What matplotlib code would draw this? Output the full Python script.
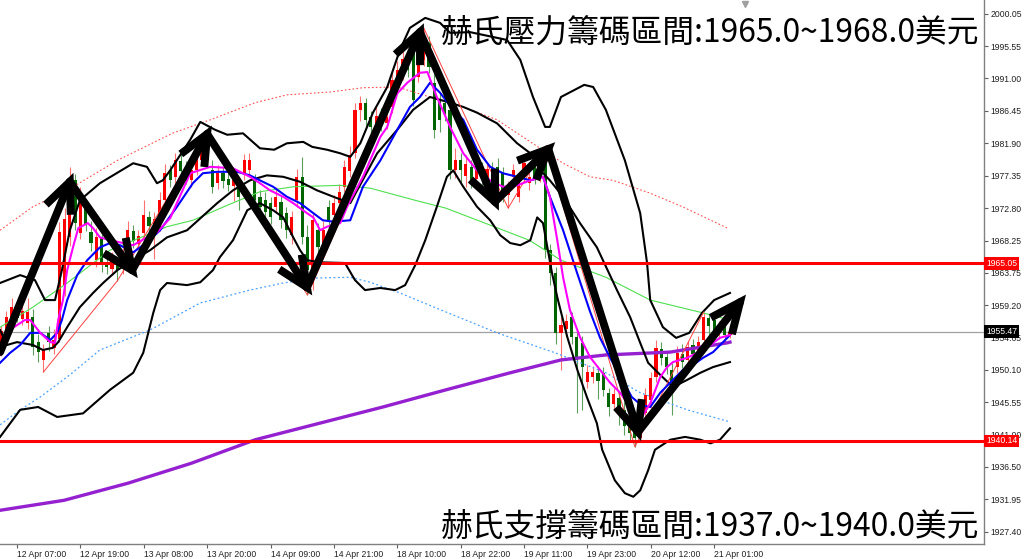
import matplotlib
matplotlib.use("Agg")
import numpy as np
import matplotlib.pyplot as plt
import matplotlib.transforms as mtransforms
from matplotlib.patches import Rectangle

# ---------------- chart data (gold H1) ----------------
opens = [1953.3, 1955.0, 1957.5, 1958.8, 1957.2, 1956.7, 1957.5, 1954.0, 1951.5, 1955.3,
         1953.2, 1954.5, 1962.0, 1968.7, 1976.7, 1969.3, 1972.8, 1969.4, 1965.5, 1968.6,
         1965.3, 1964.3, 1965.1, 1964.5, 1967.5, 1969.6, 1967.8, 1969.3, 1971.6, 1970.0,
         1970.1, 1973.9, 1978.1, 1977.2, 1979.4, 1978.2, 1976.7, 1978.1, 1979.6, 1980.9,
         1978.1, 1976.3, 1977.8, 1976.9, 1975.9, 1976.3, 1977.6, 1978.1, 1976.7, 1974.4,
         1974.0, 1973.5, 1973.0, 1973.6, 1972.1, 1969.0, 1973.9, 1977.2, 1968.7, 1962.3,
         1969.7, 1967.5, 1972.9, 1971.9, 1973.5, 1975.8, 1978.0, 1980.5, 1986.6, 1987.5,
         1985.6, 1984.2, 1985.9, 1984.7, 1987.0, 1989.8, 1991.6, 1993.6, 1994.6, 1991.2,
         1993.6, 1996.0, 1990.4, 1988.0, 1987.5, 1986.6, 1978.1, 1979.6, 1977.3, 1978.6,
         1976.9, 1978.6, 1977.0, 1978.4, 1978.6, 1977.7, 1974.6, 1977.2, 1974.4, 1977.2,
         1976.3, 1978.6, 1977.2, 1979.1, 1966.9, 1963.7, 1955.3, 1955.9, 1957.5, 1954.7,
         1953.9, 1948.4, 1949.1, 1949.6, 1949.6, 1946.8, 1945.3, 1946.2, 1944.5, 1942.5,
         1941.8, 1940.6, 1944.0, 1945.9, 1949.1, 1953.0, 1951.9, 1950.1, 1950.5, 1952.4,
         1951.5, 1953.6, 1952.2, 1954.3, 1957.4, 1957.1, 1955.5, 1956.3, 1955.0]
highs = [1956.2, 1958.3, 1960.2, 1959.7, 1959.5, 1960.2, 1958.7, 1955.2, 1953.8, 1956.3,
         1955.8, 1970.8, 1972.8, 1978.6, 1977.6, 1975.8, 1974.0, 1971.0, 1970.0, 1969.2,
         1966.6, 1966.6, 1966.0, 1967.2, 1971.0, 1970.4, 1969.8, 1974.0, 1972.4, 1972.2,
         1975.0, 1979.0, 1978.9, 1980.6, 1980.5, 1979.4, 1979.6, 1981.0, 1982.0, 1983.3,
         1979.5, 1978.8, 1978.6, 1977.8, 1977.6, 1977.1, 1980.4, 1980.5, 1977.6, 1975.4,
         1975.1, 1974.4, 1975.8, 1974.5, 1973.0, 1972.4, 1978.3, 1980.0, 1970.5, 1972.2,
         1970.7, 1971.0, 1974.0, 1974.6, 1976.2, 1979.5, 1981.5, 1987.6, 1988.6, 1988.3,
         1986.4, 1987.0, 1986.8, 1986.8, 1991.8, 1993.4, 1995.0, 1994.6, 1995.8, 1995.5,
         1998.1, 1997.0, 1991.6, 1989.0, 1988.6, 1987.8, 1981.2, 1980.6, 1980.3, 1979.5,
         1979.6, 1979.3, 1979.2, 1979.3, 1979.8, 1978.6, 1976.6, 1979.0, 1977.6, 1980.2,
         1978.4, 1979.4, 1980.5, 1981.5, 1967.8, 1964.6, 1957.5, 1958.0, 1958.2, 1955.6,
         1954.8, 1950.8, 1950.6, 1950.7, 1950.5, 1947.6, 1947.6, 1947.0, 1945.6, 1943.6,
         1942.8, 1944.5, 1947.5, 1949.8, 1954.3, 1954.0, 1952.8, 1951.0, 1953.5, 1953.7,
         1954.1, 1954.4, 1954.9, 1958.2, 1958.0, 1957.8, 1957.0, 1957.0, 1956.6]
lows = [1952.0, 1954.6, 1956.9, 1956.8, 1956.4, 1955.8, 1952.2, 1951.2, 1949.8, 1952.8,
        1952.3, 1954.0, 1960.5, 1967.5, 1969.8, 1968.5, 1969.6, 1966.8, 1964.5, 1963.9,
        1963.5, 1963.4, 1962.6, 1963.6, 1966.8, 1967.2, 1967.0, 1968.6, 1969.4, 1965.6,
        1969.6, 1973.2, 1975.8, 1976.3, 1977.1, 1976.2, 1975.8, 1977.4, 1978.8, 1978.9,
        1974.9, 1975.5, 1975.6, 1975.2, 1973.8, 1972.6, 1976.8, 1977.3, 1973.0, 1972.0,
        1971.2, 1970.6, 1972.2, 1970.0, 1968.6, 1967.8, 1973.0, 1967.8, 1960.6, 1961.3,
        1966.0, 1966.5, 1970.0, 1971.0, 1972.6, 1975.0, 1977.2, 1979.8, 1985.0, 1984.1,
        1983.2, 1983.0, 1983.6, 1983.9, 1986.2, 1989.0, 1990.8, 1991.2, 1987.2, 1990.5,
        1992.8, 1991.8, 1982.6, 1983.5, 1985.0, 1976.9, 1977.0, 1976.5, 1975.8, 1975.6,
        1976.0, 1975.7, 1975.8, 1975.7, 1974.6, 1973.6, 1972.8, 1976.2, 1973.6, 1976.5,
        1975.4, 1976.2, 1976.4, 1965.8, 1962.0, 1953.8, 1950.1, 1954.8, 1953.8, 1944.0,
        1944.5, 1947.5, 1948.2, 1946.0, 1946.4, 1943.6, 1944.6, 1942.3, 1941.0, 1940.2,
        1939.3, 1940.0, 1943.0, 1944.8, 1948.4, 1950.8, 1949.5, 1943.8, 1949.7, 1950.4,
        1950.6, 1951.2, 1951.4, 1953.7, 1955.0, 1954.6, 1954.5, 1954.0, 1954.6]
closes = [1955.6, 1957.5, 1958.9, 1957.4, 1958.3, 1958.2, 1953.3, 1952.6, 1952.9, 1954.0,
          1954.3, 1969.5, 1971.3, 1974.9, 1970.7, 1973.5, 1970.5, 1967.9, 1968.7, 1965.3,
          1964.6, 1965.6, 1964.1, 1966.0, 1969.7, 1968.2, 1968.9, 1971.8, 1970.3, 1971.3,
          1973.9, 1977.7, 1976.7, 1979.5, 1978.0, 1977.3, 1978.1, 1979.8, 1981.0, 1979.6,
          1975.8, 1977.7, 1976.6, 1976.0, 1976.8, 1974.4, 1979.5, 1979.6, 1973.9, 1973.0,
          1972.3, 1971.5, 1974.4, 1971.1, 1969.7, 1971.5, 1977.2, 1968.7, 1964.1, 1971.1,
          1967.3, 1969.8, 1971.1, 1973.5, 1975.0, 1978.6, 1980.2, 1986.6, 1987.5, 1985.2,
          1984.2, 1985.8, 1984.5, 1985.6, 1990.8, 1992.2, 1993.8, 1992.2, 1988.0, 1993.6,
          1996.2, 1992.6, 1983.8, 1985.2, 1986.0, 1978.1, 1979.5, 1978.1, 1979.0, 1976.8,
          1978.5, 1977.2, 1978.3, 1976.7, 1975.8, 1975.3, 1975.6, 1978.1, 1976.7, 1979.1,
          1977.2, 1977.2, 1979.6, 1966.9, 1963.7, 1955.3, 1956.4, 1957.0, 1954.7, 1951.5,
          1950.5, 1949.8, 1949.8, 1948.5, 1947.3, 1944.9, 1946.7, 1944.0, 1942.2, 1941.3,
          1940.5, 1942.9, 1946.6, 1948.9, 1953.2, 1951.8, 1950.5, 1948.3, 1952.5, 1951.2,
          1953.3, 1952.4, 1954.0, 1957.5, 1956.2, 1955.7, 1956.3, 1955.0, 1955.47]

# fast MA (magenta)
ma_fast_x = [-0.2, 2.2, 4.5, 5.5, 7.4, 9.3, 10.2, 10.8, 11.7, 12.5, 13.6, 14.6, 16.4, 17.4, 18.7,
             20.6, 25.0, 27.6, 29.5, 32.0, 35.8, 39.6, 43.9, 47.1, 49.0, 50.9, 53.4, 55.3, 56.6,
             57.9, 59.1, 60.4, 61.7, 64.2, 65.5, 68.5, 71.8, 73.1, 75.0, 76.9, 79.3, 80.7, 82.5,
             85.0, 87.5, 90.1, 92.6, 95.0, 97.7, 100.2, 102.6, 103.9, 105.3, 106.4, 107.7, 109.6,
             111.5, 113.4, 115.3, 117.2, 119.1, 121.0, 122.9, 124.8, 126.1, 127.2, 129.9, 131.8,
             133.7, 136.1, 138.0]
ma_fast_y = [1952.6, 1956.0, 1957.1, 1957.1, 1955.3, 1954.0, 1953.9, 1957.1, 1959.9, 1964.1,
             1967.3, 1970.0, 1970.7, 1970.0, 1968.7, 1968.3, 1967.6, 1968.7, 1969.4, 1971.4,
             1977.7, 1978.6, 1978.4, 1977.2, 1976.3, 1975.3, 1974.4, 1973.5, 1972.8, 1972.1,
             1971.5, 1969.7, 1970.2, 1970.7, 1973.0, 1977.2, 1982.8, 1984.2, 1988.9, 1990.4,
             1991.8, 1991.9, 1988.4, 1984.2, 1980.5, 1978.1, 1976.7, 1975.8, 1976.0, 1976.7,
             1977.2, 1974.4, 1968.3, 1963.1, 1958.5, 1954.7, 1951.9, 1950.1, 1948.3, 1946.9,
             1944.9, 1943.1, 1945.4, 1949.1, 1950.5, 1951.2, 1951.8, 1952.5, 1953.3, 1954.6,
             1955.0]

# slower MA (blue)
ma_mid_x = [-0.2, 1.7, 3.6, 5.5, 7.4, 9.3, 10.6, 11.5, 12.5, 14.4, 16.3, 18.7, 20.6, 22.5, 25.0,
            27.6, 30.1, 33.3, 36.3, 38.2, 40.9, 44.7, 47.1, 49.0, 51.5, 54.1, 56.6, 59.1, 60.9,
            62.9, 66.1, 68.5, 71.8, 75.0, 77.4, 79.3, 81.2, 83.1, 85.6, 87.5, 90.1, 92.6, 95.0,
            97.7, 100.2, 102.6, 103.9, 106.4, 109.1, 111.5, 113.4, 115.3, 117.2, 119.4, 121.3,
            122.9, 124.8, 127.2, 129.1, 131.0, 132.9, 134.8, 137.5, 138.0]
ma_mid_y = [1951.1, 1952.5, 1953.6, 1955.3, 1955.3, 1954.3, 1955.3, 1957.1, 1959.9, 1963.4,
            1965.5, 1967.3, 1967.9, 1967.6, 1966.6, 1968.0, 1969.7, 1973.0, 1976.3, 1977.7,
            1977.9, 1977.9, 1977.4, 1976.7, 1975.8, 1974.4, 1973.5, 1972.1, 1971.1, 1970.9,
            1971.1, 1975.8, 1979.5, 1983.8, 1987.0, 1988.4, 1990.4, 1989.0, 1986.6, 1985.2,
            1981.0, 1978.6, 1977.7, 1977.2, 1976.7, 1977.2, 1974.4, 1969.7, 1963.6, 1958.3,
            1954.6, 1951.8, 1949.3, 1946.3, 1945.1, 1944.9, 1946.9, 1948.7, 1950.1, 1950.8,
            1951.8, 1952.6, 1954.6, 1955.0]

# long MA (green, thin)
ma_long_x = [-0.2, 6.0, 12.5, 20.6, 31.4, 36.3, 42.8, 49.0, 55.3, 64.2, 69.9, 78.4, 84.2, 91.6,
             100.0, 106.0, 114.5, 122.9, 132.9, 138.0]
ma_long_y = [1956.1, 1958.9, 1962.3, 1966.9, 1970.2, 1971.1, 1973.2, 1975.1, 1975.8, 1976.0,
             1975.6, 1973.9, 1972.8, 1970.7, 1968.3, 1965.5, 1963.1, 1959.9, 1958.1, 1957.1]

# very long MA (purple, thick)
ma_200_x = [-0.2, 11.9, 24.0, 36.0, 48.1, 60.2, 72.3, 84.2, 96.4, 106.0, 114.5, 126.7, 137.5, 138.0]
ma_200_y = [1930.4, 1931.8, 1934.2, 1937.0, 1940.3, 1942.6, 1944.9, 1947.3, 1949.7, 1951.5,
            1952.2, 1952.6, 1953.9, 1954.0]

# envelope (dotted red above / dotted blue below)
env_up_x = [-0.2, 6.0, 12.5, 22.0, 32.4, 39.6, 48.1, 54.1, 62.3, 68.5, 75.0, 81.2, 87.5, 93.9,
            100.2, 106.4, 111.5, 115.9, 122.9, 129.0, 137.5]
env_up_y = [1969.7, 1973.0, 1975.3, 1979.5, 1983.3, 1985.2, 1987.6, 1988.7, 1989.1, 1989.7,
            1989.8, 1988.4, 1987.0, 1985.2, 1982.1, 1979.1, 1977.2, 1976.7, 1974.9, 1973.0, 1970.0]
env_dn_x = [-0.2, 3.6, 7.4, 13.0, 18.7, 28.2, 37.7, 47.1, 53.4, 59.8, 66.1, 69.9, 75.5, 82.0,
            93.9, 104.9, 114.5, 121.0, 129.9, 138.0]
env_dn_y = [1942.4, 1944.5, 1946.3, 1949.4, 1952.9, 1955.7, 1959.5, 1961.3, 1962.3, 1963.0,
            1963.1, 1962.4, 1960.9, 1958.9, 1955.3, 1952.5, 1949.7, 1946.9, 1944.5, 1942.8]

# bollinger bands (black)
bb_up_x = [-0.2, 3.6, 6.4, 8.3, 10.2, 11.5, 13.0, 14.9, 18.7, 25.0, 27.6, 29.5, 30.6, 32.0, 35.8,
           37.7, 40.5, 42.8, 45.8, 49.0, 51.7, 54.1, 57.2, 58.9, 61.7, 64.2, 66.1, 68.0, 70.4,
           73.1, 75.5, 77.4, 80.3, 83.1, 85.0, 88.8, 95.8, 98.3, 100.7, 103.0, 103.9, 106.0,
           110.4, 112.1, 114.5, 118.1, 121.0, 122.3, 122.9, 125.3, 127.8, 130.3, 132.7, 135.0, 138.0]
bb_up_y = [1962.3, 1963.4, 1962.7, 1959.9, 1959.9, 1964.1, 1969.7, 1973.9, 1976.3, 1979.1,
           1978.6, 1976.3, 1976.7, 1978.1, 1982.4, 1984.9, 1983.8, 1983.1, 1983.3, 1981.2,
           1981.0, 1981.9, 1982.1, 1981.4, 1981.0, 1980.5, 1980.0, 1981.9, 1986.2, 1989.8,
           1995.0, 1998.1, 1999.5, 1998.8, 1997.4, 1997.5, 1996.4, 1993.6, 1988.4, 1984.2,
           1984.2, 1988.4, 1990.1, 1989.8, 1986.6, 1979.5, 1972.1, 1965.1, 1959.9, 1956.1,
           1954.6, 1955.3, 1958.1, 1959.9, 1960.9]
bb_mid_x = [-0.2, 1.1, 3.0, 6.0, 7.9, 9.8, 10.8, 12.5, 14.9, 17.4, 19.3, 22.0, 25.0, 28.2, 31.4,
            35.2, 40.9, 43.9, 47.1, 50.3, 53.4, 56.6, 59.8, 62.9, 66.1, 71.2, 75.0, 78.0, 81.2,
            83.1, 85.0, 87.5, 90.1, 93.9, 97.7, 100.2, 102.1, 103.9, 106.4, 109.6, 112.8, 116.6,
            119.1, 121.0, 122.5, 124.8, 127.2, 129.9, 132.4, 134.8, 138.0]
bb_mid_y = [1955.7, 1953.6, 1954.0, 1953.6, 1952.9, 1953.2, 1954.0, 1956.1, 1958.9, 1960.9,
            1962.3, 1964.1, 1965.5, 1966.9, 1968.7, 1969.7, 1973.5, 1975.3, 1976.7, 1977.4,
            1977.2, 1976.5, 1975.3, 1974.4, 1973.5, 1980.5, 1983.8, 1986.6, 1988.4, 1988.0,
            1987.6, 1987.0, 1986.2, 1984.7, 1981.9, 1980.5, 1978.1, 1976.7, 1974.4, 1970.7,
            1967.3, 1961.3, 1957.5, 1953.9, 1951.1, 1949.4, 1947.7, 1948.7, 1949.7, 1950.5, 1951.2]
bb_dn_x = [-0.2, 3.6, 7.0, 10.6, 15.5, 20.6, 25.0, 26.9, 28.8, 30.1, 31.4, 35.2, 37.7, 40.1,
           41.4, 43.9, 46.6, 49.0, 51.5, 53.4, 55.3, 56.6, 57.9, 60.4, 65.1, 67.0, 68.9, 71.8,
           74.6, 76.5, 78.4, 80.3, 82.5, 84.4, 85.6, 87.5, 90.1, 92.6, 94.5, 96.4, 98.3, 100.2,
           101.5, 102.6, 104.3, 105.3, 107.2, 109.1, 110.9, 112.8, 113.8, 116.2, 118.1, 119.7,
           121.0, 122.5, 123.8, 126.7, 129.5, 132.4, 134.3, 136.1, 138.0]
bb_dn_y = [1940.7, 1944.5, 1944.9, 1943.5, 1944.0, 1947.3, 1949.7, 1952.5, 1958.1, 1961.3,
           1962.3, 1962.0, 1962.4, 1964.1, 1965.9, 1968.3, 1972.5, 1973.5, 1972.5, 1971.5,
           1968.7, 1966.9, 1965.5, 1965.2, 1965.1, 1962.7, 1961.3, 1961.6, 1961.3, 1962.0,
           1964.8, 1968.3, 1973.0, 1977.2, 1978.1, 1975.8, 1973.0, 1971.1, 1969.0, 1967.9,
           1967.6, 1968.3, 1971.5, 1970.7, 1963.7, 1960.3, 1954.7, 1950.1, 1946.3, 1942.6,
           1938.9, 1934.6, 1932.8, 1932.3, 1933.2, 1936.0, 1938.9, 1940.3, 1940.7, 1940.3,
           1939.8, 1940.3, 1941.9]

# zigzag swing points (thin red)
zz_x = [8, 22, 39, 58, 80, 96, 103, 120, 133]
zz_y = [1949.8, 1962.6, 1983.3, 1960.6, 1998.1, 1972.8, 1981.5, 1939.3, 1958.2]

# hand-drawn wave arrows
wave_x = [-0.2, 13.0, 24.8, 39.0, 57.9, 79.3, 93.5, 103.6, 120.6, 139.9]
wave_y = [1952.6, 1976.5, 1964.1, 1983.2, 1961.7, 1997.5, 1973.7, 1981.1, 1941.4, 1959.6]

resistance = 1965.05
support = 1940.14
last_price = 1955.47

ytick_vals = [2000.05, 1995.55, 1991.00, 1986.45, 1981.90, 1977.35, 1972.80, 1968.25, 1963.75,
              1959.20, 1954.65, 1950.10, 1945.55, 1941.00, 1936.50, 1931.95, 1927.40]
xtick_pos = [3, 15, 27, 39, 51, 63, 75, 87, 99, 111, 123, 135]
xtick_labels = ["12 Apr 07:00", "12 Apr 19:00", "13 Apr 08:00", "13 Apr 20:00", "14 Apr 09:00",
                "14 Apr 21:00", "18 Apr 10:00", "18 Apr 22:00", "19 Apr 11:00", "19 Apr 23:00",
                "20 Apr 12:00", "21 Apr 01:00"]

title_top = "赫氏壓力籌碼區間:1965.0~1968.0美元"
title_bottom = "赫氏支撐籌碼區間:1937.0~1940.0美元"

CJK = ["Noto Sans CJK TC", "DejaVu Sans"]
SCALE_FONT = "Liberation Sans"


def draw_candles(ax):
    for i, (o, h, l, c) in enumerate(zip(opens, highs, lows, closes)):
        up = c >= o
        body = "#ff0000" if up else "#006400"
        wick = "#ff7070" if up else "#5c9e5c"
        ax.vlines(i, l, h, color=wick, lw=0.8, zorder=2)
        ax.add_patch(Rectangle((i - 0.3, min(o, c)), 0.6, max(abs(c - o), 0.15),
                               facecolor=body, edgecolor="none", zorder=3))


def draw_wave(ax, head_px=33, half_angle=24):
    # shafts in data space, V heads built in pixel space so they keep their shape
    to_data = ax.transData.inverted()
    pts = ax.transData.transform(np.column_stack([wave_x, wave_y]))
    ang = np.radians(half_angle)
    for p0, p1 in zip(pts[:-1], pts[1:]):
        back = (p0 - p1) / np.hypot(*(p0 - p1))
        wings = []
        for s in (1, -1):
            c, sn = np.cos(s * ang), np.sin(s * ang)
            rot = np.array([c * back[0] - sn * back[1], sn * back[0] + c * back[1]])
            wings.append(p1 + head_px * rot)
        shaft = to_data.transform(np.array([p0, p1]))
        head = to_data.transform(np.array([wings[0], p1, wings[1]]))
        ax.plot(shaft[:, 0], shaft[:, 1], color="black", lw=5.7,
                solid_capstyle="round", zorder=9)
        ax.plot(head[:, 0], head[:, 1], color="black", lw=5.7,
                solid_joinstyle="miter", solid_capstyle="butt", zorder=9)


def main():
    fig = plt.figure(figsize=(10.24, 5.59), dpi=100)
    ax = fig.add_axes([0, 15 / 559, 984 / 1024, 544 / 559])
    ax.set_xlim(-0.22, 186.1)
    ax.set_ylim(1925.67, 2002.01)

    # price line + key levels
    ax.axhline(last_price, color="#a0a0a0", lw=0.9, zorder=1)
    draw_candles(ax)

    # indicators
    ax.plot(env_up_x, env_up_y, color="#ff5050", lw=0.8, ls=(0, (1.5, 2)), zorder=4)
    ax.plot(env_dn_x, env_dn_y, color="#4aa0ff", lw=0.9, ls=(0, (1.5, 2)), zorder=4)
    ax.plot(ma_long_x, ma_long_y, color="#4fe04f", lw=0.8, zorder=4)
    ax.plot(ma_200_x, ma_200_y, color="#9420d0", lw=2.4, zorder=4)
    for bx, by in [(bb_up_x, bb_up_y), (bb_mid_x, bb_mid_y), (bb_dn_x, bb_dn_y)]:
        ax.plot(bx, by, color="black", lw=1.5, zorder=5)
    ax.plot(zz_x, zz_y, color="#ff4040", lw=0.7, zorder=5)
    ax.plot(ma_mid_x, ma_mid_y, color="#0000ff", lw=1.5, zorder=6)
    ax.plot(ma_fast_x, ma_fast_y, color="#ff00ff", lw=1.5, zorder=6)

    ax.axhline(resistance, color="#ff0000", lw=2.2, zorder=7)
    ax.axhline(support, color="#ff0000", lw=2.2, zorder=7)

    draw_wave(ax)

    # chart shift marker
    trans = mtransforms.blended_transform_factory(ax.transData, ax.transAxes)
    ax.plot([140.9], [0.992], marker="v", ms=5, color="#a0a0a0", transform=trans,
            clip_on=False, zorder=9)

    # axes styling
    for side in ["top", "left"]:
        ax.spines[side].set_visible(False)
    for side in ["right", "bottom"]:
        ax.spines[side].set_color("#808080")
        ax.spines[side].set_linewidth(1.0)

    ax.yaxis.tick_right()
    ax.set_yticks(ytick_vals)
    ax.set_yticklabels([f"{v:.2f}" for v in ytick_vals], family=SCALE_FONT)
    ax.tick_params(axis="y", direction="out", length=3, width=0.8, color="#606060",
                   labelsize=6.2, pad=1.5, labelcolor="#202020")
    ax.set_xticks(xtick_pos)
    ax.set_xticklabels(xtick_labels, family=SCALE_FONT)
    ax.tick_params(axis="x", direction="out", length=3, width=0.8, color="#606060",
                   labelsize=6.2, pad=1, labelcolor="#202020")
    for lab in ax.get_xticklabels():
        lab.set_horizontalalignment("left")

    # coloured price tags on the scale
    ytrans = mtransforms.blended_transform_factory(ax.transAxes, ax.transData)
    for val, bg in [(resistance, "#ff0000"), (last_price, "#000000"), (support, "#ff0000")]:
        ax.text(1.002, val, f"{val:.2f}", transform=ytrans, ha="left", va="center",
                fontsize=6.2, family=SCALE_FONT, color="white", zorder=10, clip_on=False,
                bbox=dict(boxstyle="square,pad=0.2", fc=bg, ec="none"))

    # annotations
    fig.text(979 / 1024, 1 - 33 / 559, title_top, ha="right", va="center",
             fontsize=22.9, family=CJK, color="black", zorder=10)
    fig.text(979 / 1024, 1 - 527 / 559, title_bottom, ha="right", va="center",
             fontsize=22.9, family=CJK, color="black", zorder=10)

    fig.savefig("out.png", dpi=100)
    plt.close(fig)


if __name__ == "__main__":
    main()
